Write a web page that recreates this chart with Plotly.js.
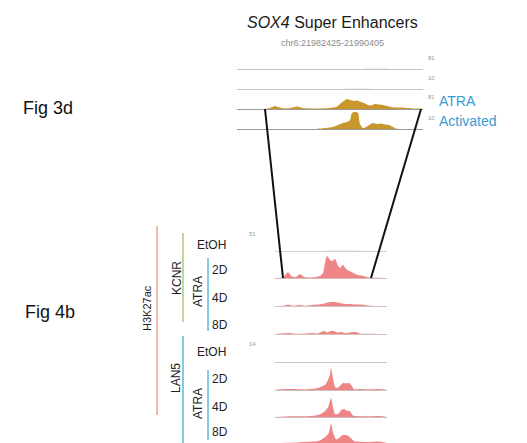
<!DOCTYPE html>
<html><head><meta charset="utf-8">
<script src="https://cdn.plot.ly/plotly-3.0.1.min.js"></script>
<style>html,body{margin:0;padding:0;background:#fff}#c{width:527px;height:443px}</style>
</head><body><div id="c"></div>
<script>
// ---- data (positions in % of the track window, signal in track units) ----
const trackNames = ["3d_r1","3d_r2","3d_atra1","3d_atra2","KCNR_EtOH","KCNR_2D","KCNR_4D","KCNR_8D","LAN5_EtOH","LAN5_2D","LAN5_4D","LAN5_8D"];
const trackScales = [81,10,81,10,51,51,51,51,14,14,14,14];
const scaleLabels = ["81","10","81","10","51","14"];

const top1Pos = [0,30,55,62,68,75,82,100];
const top1Val = [0,0,0.3,0.5,0.3,0.6,0.2,0];
const top2Pos = [0,40,58,66,72,80,100];
const top2Val = [0,0,0.05,0.08,0.05,0.06,0];
const atra1Pos = [0,15,17.7,20.4,23.1,25.8,28.5,32.3,35.5,39.2,44.6,50,53.2,55.4,57.5,59.1,60.8,62.9,64.5,66.7,68.3,70.4,72,74.2,76.3,78.5,80.6,82.8,85.5,88.7,91.9,95.2,98.4,100];
const atra1Val = [0,0,4,12,6,2,4,10,4,2,2,4,8,20,32,40,36,32,34,28,24,16,14,20,18,16,12,8,6,6,4,2,2,0];
const atra2Pos = [0,41.9,44.6,47.8,51.6,54.3,57,59.1,60.8,61.8,63.4,65.1,66.1,67.7,69.4,71,73.1,75.3,77.4,79.6,81.7,83.9,85.5,87.6,100];
const atra2Val = [0,0,0.25,0.5,1,2,3,3.5,4.5,8,8.5,8,2.5,0.5,1,2,3,2.5,2.75,2.25,2,1,0.25,0,0];

const kEtohPos = [0,40,50,55,62,70,100];
const kEtohVal = [0,0,0.4,0.6,0.4,0.3,0];
const k2dPos = [0,7.1,11.6,15.2,18.8,22.3,25.9,31.2,35.7,40.2,42.9,44.6,46.4,49.1,50.9,53.6,56.3,58,60.7,63.4,66.1,68.8,73.2,78.6,83.9,92,100];
const k2dVal = [0,1,11,3,2,7.5,2,1,2,4,9.5,28,41.5,34,32,36,23,19,25,17,13,11,6,4,1,0.5,0];
const k4dPos = [0,8.9,11.6,15.2,22.3,26.8,33,38.4,42,45.5,49.1,53.6,58,62.5,67,71.4,75.9,80.4,84.8,100];
const k4dVal = [0,1,2.8,0.5,1.9,0.5,1.9,2.8,4,5.7,7.5,7.5,5.7,3.8,3.8,2.8,2.8,1.9,0.5,0];
const k8dPos = [0,13.4,17.9,26.8,33.9,38.4,43.8,46.4,50,52.7,55.4,58.9,63.4,68.8,72.3,75.9,84.8,100];
const k8dVal = [0,1.9,0.5,1,1.9,1,5.7,3,5.7,5.7,3,4,1.5,3.8,3.8,1,0.5,0];

const lEtohPos = [0,100];
const lEtohVal = [0,0];
const l2dPos = [0,8.9,17.9,26.8,33,38.4,42,44.6,47.3,49.1,50,51.8,53.6,55.4,58,60.7,63.4,66.1,68.8,70.5,77.7,84.8,93.8,100];
const l2dVal = [0,0.5,0.5,0.3,0.5,1,2,2.6,5.2,8,11.4,6,1.5,1,2.1,3.6,3.4,3.6,2,0.5,0.5,0.3,0.5,0];
const l4dPos = [0,13.4,22.3,33,38.4,42,44.6,47.3,50,51.8,53.6,56.3,58.9,61.6,64.3,67,69.6,77.7,86.6,93.8,100];
const l4dVal = [0,0.4,0.4,0.5,1,2,3,5,9.9,5,1.5,1.5,3.5,4.2,3.2,3,0.8,0.4,0.4,0.5,0];
const l8dPos = [0,22.3,38.4,42,45.5,48.2,50,51.8,54.5,57.1,59.8,62.5,65.2,67.9,70.5,80.4,93.8,100];
const l8dVal = [0,0.4,1,2,3.5,5.5,10.4,5.5,2,2.5,4,4.2,3.8,2.5,1,0.5,0.8,0];

const sideLabels = ["EtOH","2D","4D","8D"];

// ---- layout geometry (pixels) ----
const W = 527, H = 443;
const px = x => x / W, py = y => 1 - y / H;
const GOLD = "#c9962c", SALMON = "#f08585", GREY = "#c4c4c4";

const tracks = [
  {pos: top1Pos, val: top1Val, base: 69, h: 20, x0: 237, x1: 423, fill: GREY, axis: GREY},
  {pos: top2Pos, val: top2Val, base: 89, h: 20, x0: 237, x1: 423, fill: GREY, axis: GREY},
  {pos: atra1Pos, val: atra1Val, base: 109, h: 20, x0: 237, x1: 423, fill: GOLD, axis: "#9a9a9a"},
  {pos: atra2Pos, val: atra2Val, base: 129, h: 20, x0: 237, x1: 423, fill: GOLD, axis: "#9a9a9a"},
  {pos: kEtohPos, val: kEtohVal, base: 251, h: 27, x0: 275, x1: 387, fill: "#9fc6dc", axis: "#cdd3d8"},
  {pos: k2dPos, val: k2dVal, base: 278, h: 27, x0: 275, x1: 387, fill: SALMON, axis: "#d8b8b8"},
  {pos: k4dPos, val: k4dVal, base: 306, h: 27, x0: 275, x1: 387, fill: SALMON, axis: "#d8c0c0"},
  {pos: k8dPos, val: k8dVal, base: 334, h: 27, x0: 275, x1: 387, fill: SALMON, axis: "#d8c0c0"},
  {pos: lEtohPos, val: lEtohVal, base: 362, h: 27, x0: 275, x1: 387, fill: GREY, axis: "#c8c8c8"},
  {pos: l2dPos, val: l2dVal, base: 390, h: 27, x0: 275, x1: 387, fill: SALMON, axis: "#c8c0c0"},
  {pos: l4dPos, val: l4dVal, base: 417, h: 27, x0: 275, x1: 387, fill: SALMON, axis: "#c8c0c0"},
  {pos: l8dPos, val: l8dVal, base: 443, h: 27, x0: 275, x1: 387, fill: SALMON, axis: "#c8c0c0"}
];

const data = [];
const layout = {
  width: W, height: H, margin: {l: 0, r: 0, t: 0, b: 0},
  paper_bgcolor: "#fff", plot_bgcolor: "rgba(0,0,0,0)", showlegend: false,
  font: {family: "Liberation Sans, Arial, sans-serif"},
  annotations: [], shapes: []
};

tracks.forEach((t, i) => {
  const n = i === 0 ? "" : String(i + 1);
  data.push({
    x: t.pos, y: t.val, type: "scatter", mode: "lines", fill: "tozeroy",
    fillcolor: t.fill, line: {width: 0, color: t.fill, shape: "spline", smoothing: 0.6},
    xaxis: "x" + n, yaxis: "y" + n, hoverinfo: "skip", name: trackNames[i]
  });
  const yb = Math.max(0, py(t.base));
  layout["xaxis" + n] = {
    domain: [px(t.x0), px(t.x1)], range: [0, 100], anchor: "y" + n,
    showgrid: false, zeroline: false, showticklabels: false, ticks: "",
    showline: true, linecolor: t.axis, linewidth: 1, fixedrange: true
  };
  layout["yaxis" + n] = {
    domain: [yb, Math.min(1, py(t.base - t.h))], range: [0, trackScales[i]], anchor: "x" + n,
    showgrid: false, zeroline: false, showticklabels: false, ticks: "", showline: false, fixedrange: true
  };
});

const ann = (text, x, y, o) => layout.annotations.push(Object.assign({
  text, x: px(x), y: py(y), xref: "paper", yref: "paper", showarrow: false,
  xanchor: "center", yanchor: "middle", font: {size: 12, color: "#222"}
}, o || {}));

// titles
ann("<i>SOX4</i> Super Enhancers", 332, 22, {font: {size: 16, color: "#1a1a1a"}});
ann("chr6:21982425-21990405", 332, 43, {font: {size: 9, color: "#8a8a8a"}});
ann("Fig 3d", 48, 108, {font: {size: 18, color: "#111"}});
ann("Fig 4b", 50, 312, {font: {size: 18, color: "#111"}});
ann("ATRA", 437, 101, {xanchor: "left", font: {size: 14, color: "#3a9bd0"}});
ann("Activated", 437, 121, {xanchor: "left", font: {size: 14, color: "#3a9bd0"}});

// track scale labels
[[431, 58, 0], [431, 78, 1], [431, 97, 2], [431, 118, 3], [252, 234, 4], [252, 344, 5]].forEach(([x, y, k]) =>
  ann(scaleLabels[k], x, y, {font: {size: 6, color: "#9a9a9a"}}));

// side labels
const kY = [245, 270, 298, 325], lY = [352, 379, 407, 432];
sideLabels.forEach((s, j) => {
  const xx = j === 0 ? 211 : 220;
  ann(s, xx, kY[j], {font: {size: 12, color: "#222"}});
  ann(s, xx, lY[j], {font: {size: 12, color: "#222"}});
});
ann("H3K27ac", 147, 308, {textangle: -90, font: {size: 11, color: "#222"}});
ann("KCNR", 177, 278, {textangle: -90, font: {size: 12, color: "#222"}});
ann("ATRA", 198, 292, {textangle: -90, font: {size: 12, color: "#222"}});
ann("LAN5", 176, 378, {textangle: -90, font: {size: 12, color: "#222"}});
ann("ATRA", 198, 404, {textangle: -90, font: {size: 12, color: "#222"}});

// bracket and zoom lines
const ln = (x0, y0, x1, y1, color, width) => layout.shapes.push({
  type: "line", xref: "paper", yref: "paper", x0: px(x0), y0: py(y0), x1: px(x1), y1: py(y1),
  line: {color, width}
});
ln(157, 226, 157, 415, "#f3a58e", 1.5);
ln(183, 233, 183, 322, "#a9cf72", 1.5);
ln(208, 258, 208, 331, "#5cb8dc", 1.5);
ln(183, 336, 183, 443, "#5cb8dc", 1.5);
ln(208, 370, 208, 440, "#5cb8dc", 1.5);
ln(265, 109, 283, 278, "#111", 2);
ln(421, 109, 371, 278, "#111", 2);

Plotly.newPlot("c", data, layout, {staticPlot: true, displayModeBar: false});
</script></body></html>
